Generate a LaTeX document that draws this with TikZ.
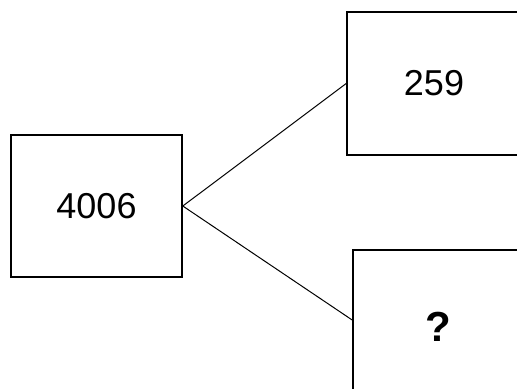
\documentclass[tikz,border=0pt]{standalone}
\usepackage{fontspec}
\setmainfont{Liberation Sans}
\begin{document}
\begin{tikzpicture}[x=0.5pt, y=-0.5pt, line width=0.5pt,
  numbox/.style={draw, line width=0.8pt, inner sep=0pt, font=\fontsize{18}{20}\selectfont}]
  \useasboundingbox (0,0) rectangle (517,388);
  \clip (0,0) rectangle (517,388);
  % 상자들
  \node[numbox, minimum width=85.5pt, minimum height=71pt] (start) at (96.5,206) {4006};
  \node[numbox, minimum width=87pt, minimum height=71.5pt] (upper) at (434,83.5) {259};
  \node[numbox, minimum width=85pt, minimum height=77pt, font=\fontsize{21}{23}\selectfont\bfseries] (lower) at (438,327) {?};
  % 연결선
  \draw (start.east) -- (upper.west);
  \draw (start.east) -- ([yshift=3.5pt]lower.west);
\end{tikzpicture}
\end{document}
